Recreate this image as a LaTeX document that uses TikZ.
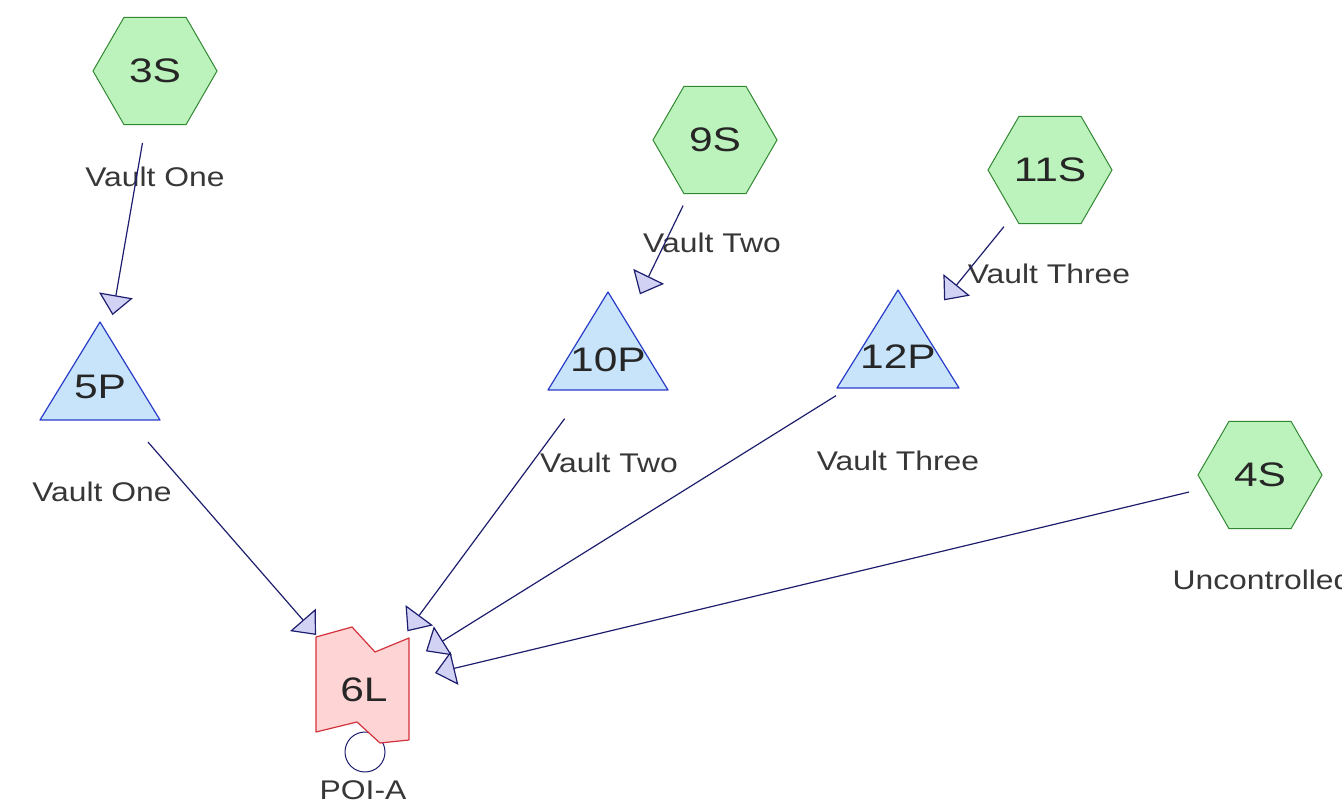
\documentclass[tikz,border=0pt]{standalone}
\usepackage{fontspec}
\setmainfont{Liberation Sans}
\newfontfamily\diagfont[FakeStretch=1.18]{Liberation Sans}
\newfontfamily\namefont[FakeStretch=1.25]{Liberation Sans}
\usetikzlibrary{shapes.geometric,arrows.meta}
\definecolor{srcfill}{RGB}{188,243,188}
\definecolor{srcline}{RGB}{50,135,50}
\definecolor{prodfill}{RGB}{200,228,250}
\definecolor{prodline}{RGB}{40,60,200}
\definecolor{locfill}{RGB}{255,212,212}
\definecolor{locline}{RGB}{210,50,60}
\definecolor{flowline}{RGB}{30,30,110}
\definecolor{headfill}{RGB}{210,210,245}
\definecolor{tagtext}{RGB}{55,55,55}
\tikzset{
  source/.style={regular polygon, regular polygon sides=6, minimum size=124pt, inner sep=0pt,
    draw=srcline, fill=srcfill, line width=1pt, text=black!85, font=\namefont\fontsize{34}{38}\selectfont},
  prodtri/.style={draw=prodline, fill=prodfill, line width=1.2pt, line join=round},
  label/.style={inner sep=0pt, text=black!85, font=\namefont\fontsize{34}{38}\selectfont},
  tag/.style={inner sep=0pt, text=tagtext, font=\diagfont\fontsize{27}{30}\selectfont},
  flow/.style={line width=1.2pt, draw=flowline, shorten <=73pt, shorten >=73pt,
    -{Triangle[length=20pt,width=34pt,fill=headfill]}},
}
\begin{document}
\begin{tikzpicture}[x=1pt,y=-1pt]
\useasboundingbox (0,0) rectangle (1342,810);
% location
\draw[flowline, line width=1pt] (365,752) circle (20);
\draw[draw=locline, fill=locfill, line width=1.2pt, line join=round] (316,637) -- (352,627) -- (375,652) -- (409,638) -- (409,740) -- (380,743) -- (357,722) -- (316,732) -- cycle;
\node[label] (n6L) at (364,690) {6L};
\node[tag] (t6L) at (363,790) {POI-A};
% products
\draw[prodtri] (100,322) -- (160,420) -- (40,420) -- cycle;
\node[label] (n5P) at (100,387) {5P};
\draw[prodtri] (608,292) -- (668,390) -- (548,390) -- cycle;
\node[label] (n10P) at (608,360) {10P};
\draw[prodtri] (898,290) -- (959,388) -- (837,388) -- cycle;
\node[label] (n12P) at (898,357) {12P};
\node[tag] (t5P) at (102,492) {Vault One};
\node[tag] (t10P) at (609,463) {Vault Two};
\node[tag] (t12P) at (898,461) {Vault Three};
% sources
\node[source] (n3S) at (155,71) {3S};
\node[tag] (t3S) at (155,177) {Vault One};
\node[source] (n9S) at (715,140) {9S};
\node[tag] (t9S) at (712,243) {Vault Two};
\node[source] (n11S) at (1050,170) {11S};
\node[tag] (t11S) at (1049,274) {Vault Three};
\node[source] (n4S) at (1260,475) {4S};
\node[tag] (t4S) at (1262,580) {Uncontrolled};
% flows
\draw[flow] (n3S.center) -- (n5P.center);
\draw[flow] (n9S.center) -- (n10P.center);
\draw[flow] (n11S.center) -- (n12P.center);
\draw[flow] (n5P.center) -- (n6L.center);
\draw[flow] (n10P.center) -- (n6L.center);
\draw[flow] (n12P.center) -- (n6L.center);
\draw[flow] (n4S.center) -- (n6L.center);
\end{tikzpicture}
\end{document}
